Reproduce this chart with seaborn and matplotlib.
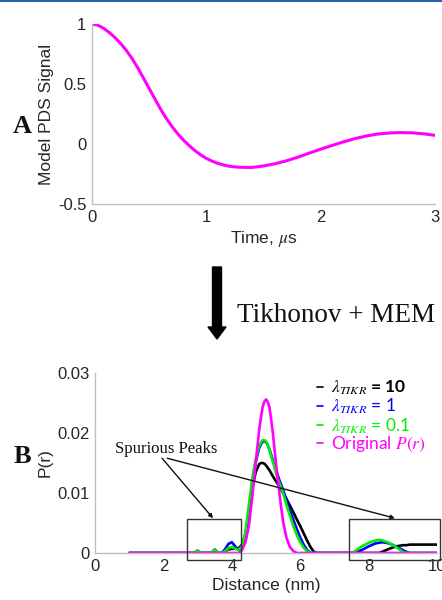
import matplotlib
matplotlib.use("Agg")
import matplotlib.pyplot as plt
import numpy as np
import pandas as pd
import seaborn as sns
from matplotlib.patches import Rectangle, FancyArrow
from matplotlib.lines import Line2D

# ---------------- data: panel A (model PDS signal) ----------------
t_us = [0.0, 0.05, 0.1, 0.15, 0.2, 0.25, 0.3, 0.35, 0.4, 0.45, 0.5, 0.55, 0.6, 0.65, 0.7,
        0.75, 0.8, 0.85, 0.9, 0.95, 1.0, 1.05, 1.1, 1.15, 1.2, 1.25, 1.3, 1.35, 1.4, 1.45,
        1.5, 1.6, 1.7, 1.8, 1.9, 2.0, 2.1, 2.2, 2.3, 2.4, 2.5, 2.6, 2.7, 2.8, 2.9, 3.0]
signal = [1.0, 0.99, 0.965, 0.93, 0.888, 0.838, 0.78, 0.713, 0.635, 0.55, 0.462, 0.376,
          0.29, 0.213, 0.145, 0.085, 0.032, -0.014, -0.055, -0.09, -0.12, -0.143, -0.161,
          -0.175, -0.185, -0.191, -0.194, -0.195, -0.195, -0.19, -0.183, -0.165, -0.14,
          -0.11, -0.076, -0.043, -0.012, 0.018, 0.045, 0.067, 0.083, 0.092, 0.095, 0.093,
          0.085, 0.072]
a_xticks = [0, 1, 2, 3]
a_yticks = [-0.5, 0, 0.5, 1]
a_yticklabels = ["-0.5", "0", "0.5", "1"]

# ---------------- data: panel B (distance distributions) ----------------
r_nm = [1.0, 2.8, 2.9, 3.0, 3.1, 3.4, 3.5, 3.6, 3.7, 3.8, 3.9, 4.0, 4.1, 4.2, 4.3, 4.4,
        4.5, 4.6, 4.7, 4.8, 4.85, 4.9, 4.95, 5.0, 5.05, 5.1, 5.15, 5.2, 5.3, 5.4, 5.5,
        5.6, 5.7, 5.8, 5.9, 6.0, 6.1, 6.2, 6.3, 6.4, 6.5, 7.4, 7.5, 7.6, 7.8, 8.0, 8.2,
        8.3, 8.4, 8.6, 8.8, 9.0, 9.1, 9.2, 9.4, 9.6, 9.8, 10.0]
p_lam10 = [0, 0, 0, 0, 0, 0, 0, 0, 0, 0.0003, 0.0006, 0.0007, 0.0007, 0.0008, 0.0014, 0.0032,
           0.0068, 0.0108, 0.0135, 0.0148, 0.0150, 0.0150, 0.0149, 0.0146, 0.0142, 0.0138,
           0.0133, 0.0128, 0.0119, 0.0110, 0.0100, 0.0090, 0.0079, 0.0068, 0.0056, 0.0045,
           0.0033, 0.0021, 0.0010, 0.0002, 0, 0, 0, 0, 0, 0, 0, 0, 0.0002, 0.0007, 0.0011,
           0.0013, 0.0013, 0.0014, 0.0014, 0.0014, 0.0014, 0.0014]
p_lam1 = [0, 0, 0, 0.0004, 0, 0, 0.0006, 0, 0, 0.0006, 0.0015, 0.0018, 0.0011, 0.0005, 0.0010,
          0.0030, 0.0072, 0.0118, 0.0152, 0.0175, 0.0181, 0.0186, 0.0186, 0.0185, 0.0180,
          0.0173, 0.0164, 0.0155, 0.0137, 0.0120, 0.0105, 0.0088, 0.0071, 0.0055, 0.0040,
          0.0026, 0.0014, 0.0005, 0, 0, 0, 0, 0, 0, 0.0005, 0.0011, 0.0016, 0.0017, 0.0018,
          0.0016, 0.0011, 0.0005, 0.0002, 0, 0, 0, 0, 0]
p_lam01 = [0, 0, 0, 0.0004, 0, 0, 0.0006, 0, 0, 0.0003, 0.0008, 0.0010, 0.0007, 0.0005, 0.0012,
           0.0035, 0.0080, 0.0125, 0.0157, 0.0178, 0.0184, 0.0188, 0.0188, 0.0186, 0.0180,
           0.0172, 0.0162, 0.0152, 0.0132, 0.0115, 0.0100, 0.0080, 0.0062, 0.0045, 0.0030,
           0.0018, 0.0009, 0.0003, 0, 0, 0, 0, 0, 0.0003, 0.0011, 0.0017, 0.0021, 0.0022,
           0.0021, 0.0017, 0.0010, 0.0002, 0, 0, 0, 0, 0, 0]
p_orig = [0, 0, 0, 0, 0, 0, 0, 0, 0, 0, 0, 0, 0, 0, 0.0005, 0.0018, 0.0045, 0.0095, 0.0150,
          0.0205, 0.0225, 0.0243, 0.0252, 0.0256, 0.0252, 0.0243, 0.0223, 0.0200, 0.0145,
          0.0095, 0.0052, 0.0025, 0.0010, 0.0003, 0, 0, 0, 0, 0, 0, 0, 0, 0, 0, 0, 0, 0, 0,
          0, 0, 0, 0, 0, 0, 0, 0, 0, 0]
series_labels = [r"$\boldsymbol{\lambda_{TIKR}}$ = 10", r"$\lambda_{TIKR}$ = 1",
                 r"$\lambda_{TIKR}$ = 0.1", r"Original $P(r)$"]
series_colors = ["#000000", "#0000ff", "#00ee00", "#ff00ff"]
b_xticks = [0, 2, 4, 6, 8, 10]
b_yticks = [0, 0.01, 0.02, 0.03]
b_yticklabels = ["0", "0.01", "0.02", "0.03"]

# ---------------- style ----------------
sns.set_theme(style="white")
plt.rcParams["font.family"] = ["Liberation Sans", "DejaVu Sans"]
plt.rcParams["mathtext.fontset"] = "stix"
plt.rcParams["lines.solid_joinstyle"] = "round"
plt.rcParams["lines.solid_capstyle"] = "round"

SPINE = "#bdbdbd"
TXT = "#262626"
W, H = 442, 600

fig = plt.figure(figsize=(W / 100, H / 100), dpi=100)


def rect(l, t, r, b):
    return [l / W, 1 - b / H, (r - l) / W, (b - t) / H]


def style_axes(ax):
    for s in ("top", "right"):
        ax.spines[s].set_visible(False)
    for s in ("left", "bottom"):
        ax.spines[s].set_color(SPINE)
        ax.spines[s].set_linewidth(1.0)
    ax.tick_params(direction="in", length=3, width=0.8, color=SPINE,
                   labelsize=12, labelcolor=TXT, pad=4)


# ---------------- panel A ----------------
ax_a = fig.add_axes(rect(92, 24, 435, 204))
dfa = pd.DataFrame({"t": t_us, "s": signal})
sns.lineplot(data=dfa, x="t", y="s", ax=ax_a, color="#ff00ff", linewidth=2.2)
ax_a.set_xlim(0, 3)
ax_a.set_ylim(-0.5, 1)
ax_a.set_xticks(a_xticks)
ax_a.set_yticks(a_yticks)
ax_a.set_yticklabels(a_yticklabels)
ax_a.set_xlabel(r"Time, $\mu$s", fontsize=12.5, color=TXT, labelpad=3)
ax_a.set_ylabel("Model PDS Signal", fontsize=12.5, color=TXT, labelpad=3)
style_axes(ax_a)

# ---------------- panel B ----------------
ax_b = fig.add_axes(rect(95, 373, 437, 553))
n = len(r_nm)
dfb = pd.DataFrame({
    "r": r_nm * 4,
    "p": p_lam10 + p_lam1 + p_lam01 + p_orig,
    "series": sum([[lab] * n for lab in series_labels], []),
})
sns.lineplot(data=dfb, x="r", y="p", hue="series", hue_order=series_labels,
             palette=dict(zip(series_labels, series_colors)), linewidth=1.9,
             estimator=None, sort=False, legend=False, ax=ax_b)
ax_b.set_xlim(0, 10)
ax_b.set_ylim(0, 0.03)
ax_b.set_xticks(b_xticks)
ax_b.set_yticks(b_yticks)
ax_b.set_yticklabels(b_yticklabels)
ax_b.set_xlabel("Distance (nm)", fontsize=12.5, color=TXT, labelpad=3)
ax_b.set_ylabel("P(r)", fontsize=12.5, color=TXT, labelpad=3)
style_axes(ax_b)

handles = [Line2D([], [], color=c, lw=1.2) for c in series_colors]
leg = ax_b.legend(handles, series_labels, loc="upper left", bbox_to_anchor=(0.63, 1.005),
                  frameon=False, handlelength=0.3, handletextpad=0.5, labelspacing=-0.02,
                  borderaxespad=0, labelcolor=series_colors,
                  prop={"family": "Lato", "size": 12.5})
leg.get_texts()[0].set_fontweight("bold")

# inset boxes around spurious peaks
for x0, x1 in [(2.69, 4.27), (7.43, 10.09)]:
    ax_b.add_patch(Rectangle((x0, -0.00117), x1 - x0, 0.00684, fill=False,
                             edgecolor="#333333", lw=1.0, clip_on=False, zorder=5))

ax_b.text(2.08, 0.0167, "Spurious Peaks", ha="center", va="baseline",
          family="Liberation Serif", fontsize=12, color="#111111")
for start, end in [((1.96, 0.0158), (3.45, 0.0058)), ((2.11, 0.0158), (8.77, 0.0058))]:
    ax_b.annotate("", xy=end, xytext=start,
                  arrowprops=dict(arrowstyle="-|>", color="#111111", lw=1.0,
                                  mutation_scale=6, shrinkA=0, shrinkB=0))

# ---------------- figure-level decorations ----------------
fig.text(22 / W, 1 - 133 / H, "A", ha="center", va="baseline", fontsize=19,
         fontweight="bold", family="Liberation Serif", color="#111111")
fig.text(22 / W, 1 - 463 / H, "B", ha="center", va="baseline", fontsize=19,
         fontweight="bold", family="Liberation Serif", color="#111111")
fig.text(237 / W, 1 - 322 / H, "Tikhonov + MEM", ha="left", va="baseline",
         fontsize=19.5, family="Liberation Serif", color="#111111")
fig.add_artist(FancyArrow(2.17, 3.33, 0, -0.72, width=0.09, head_width=0.18,
                          head_length=0.12, length_includes_head=True,
                          color="#000000", transform=fig.dpi_scale_trans))
fig.add_artist(Line2D([0, 1], [0.998, 0.998], color="#2a63b0", lw=1.5,
                      transform=fig.transFigure))

fig.savefig("out.png", dpi=100)
